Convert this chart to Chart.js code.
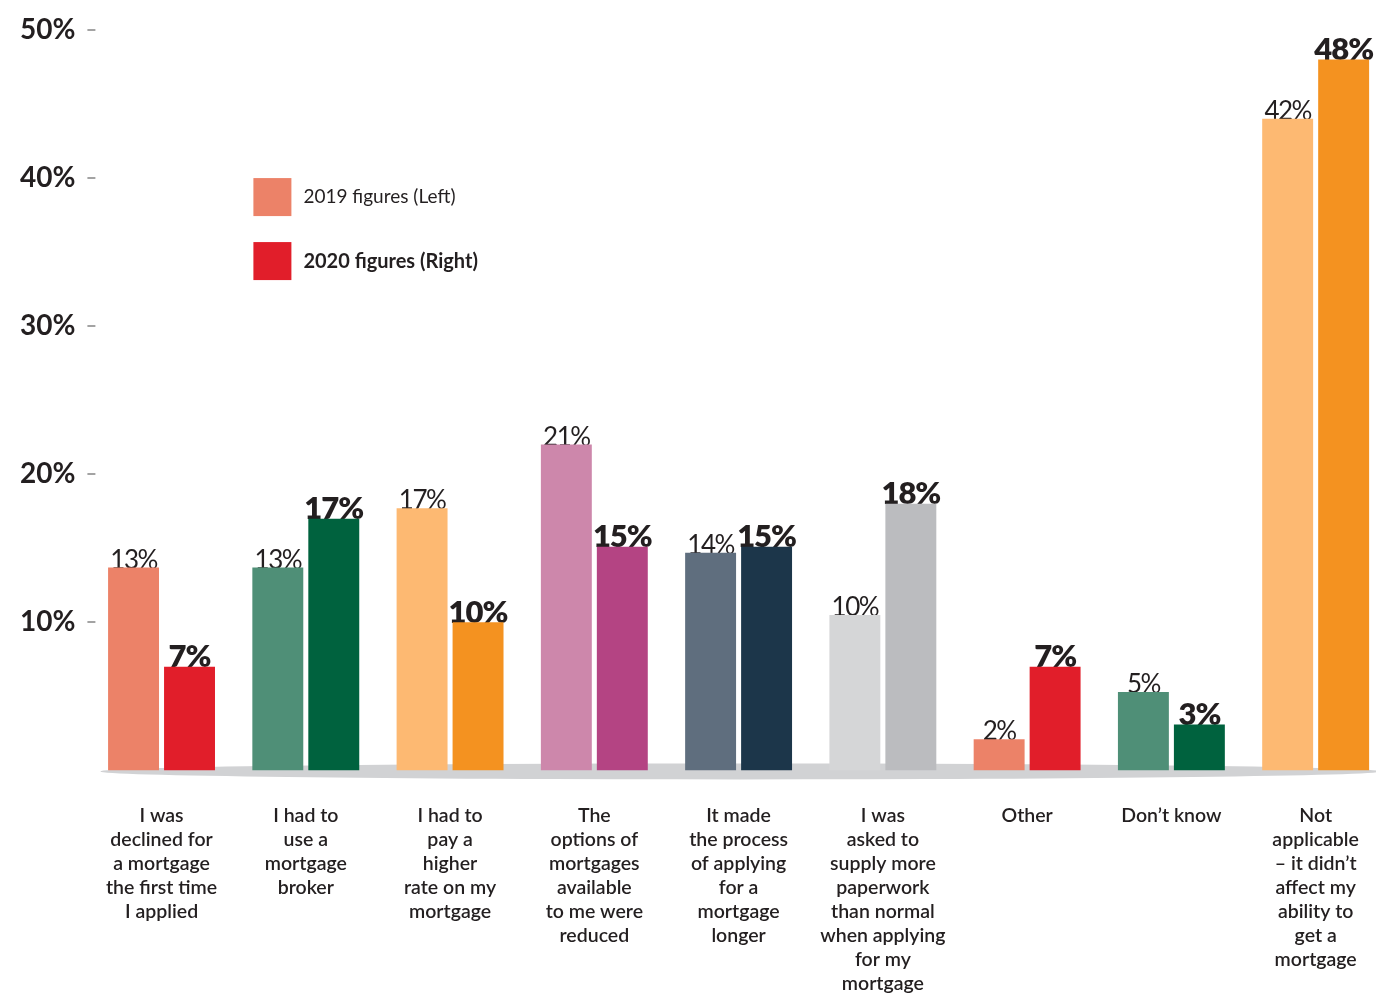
<!DOCTYPE html>
<html>
<head>
<meta charset="utf-8">
<script src="https://cdn.jsdelivr.net/npm/chart.js@4.4.1/dist/chart.umd.min.js"></script>
<style>
  html, body { margin: 0; padding: 0; background: #ffffff; overflow: hidden; }
  #wrap { position: relative; width: 1392px; height: 994px; }
</style>
</head>
<body>
<div id="wrap"><canvas id="c"></canvas></div>
<script>
// ---- data ----
const categories = [
  ['I was', 'declined for', 'a mortgage', 'the first time', 'I applied'],
  ['I had to', 'use a', 'mortgage', 'broker'],
  ['I had to', 'pay a', 'higher', 'rate on my', 'mortgage'],
  ['The', 'options of', 'mortgages', 'available', 'to me were', 'reduced'],
  ['It made', 'the process', 'of applying', 'for a', 'mortgage', 'longer'],
  ['I was', 'asked to', 'supply more', 'paperwork', 'than normal', 'when applying', 'for my', 'mortgage'],
  ['Other'],
  ['Don\u2019t know'],
  ['Not', 'applicable', '\u2013 it didn\u2019t', 'affect my', 'ability to', 'get a', 'mortgage']
];
// bar heights as drawn in the picture
const values2019 = [13.7, 13.7, 17.7, 22.0, 14.7, 10.5, 2.1, 5.3, 44.0];
const values2020 = [7, 17, 10, 15.1, 15.1, 18, 7, 3.1, 48];
// printed value labels
const labels2019 = ['13%', '13%', '17%', '21%', '14%', '10%', '2%', '5%', '42%'];
const labels2020 = ['7%', '17%', '10%', '15%', '15%', '18%', '7%', '3%', '48%'];
const yTicks = [10, 20, 30, 40, 50];
const yTickLabels = ['10%', '20%', '30%', '40%', '50%'];
const seriesNames = ['2019 figures (Left)', '2020 figures (Right)'];

const colors2019 = ['#EC8268', '#4F8F77', '#FDB972', '#CD87AB', '#5F6E7E', '#D5D6D7', '#EC8268', '#4F8F77', '#FDB972'];
const colors2020 = ['#E11E2A', '#00623E', '#F49220', '#B44483', '#1C364A', '#BBBCBF', '#E11E2A', '#00623E', '#F49220'];

const FONT = 'Lato, "Open Sans", "DejaVu Sans", sans-serif';

// ---- plugins ----
const decorPlugin = {
  id: 'decor',
  beforeDatasetsDraw(chart) {
    const ctx = chart.ctx;
    const ca = chart.chartArea;
    const y0 = chart.scales.y.getPixelForValue(0);
    // ground shadow
    const lx = ca.left + 11, rx = ca.right - 8;
    ctx.save();
    ctx.fillStyle = '#D1D2D4';
    ctx.beginPath();
    ctx.ellipse((lx + rx) / 2, y0 + 1, (rx - lx) / 2, 8, 0, 0, Math.PI * 2);
    ctx.fill();
    ctx.restore();

    // value labels (drawn beneath bars, bars overlap their bottoms slightly)
    ctx.save();
    ctx.textAlign = 'center';
    ctx.textBaseline = 'alphabetic';
    ctx.fillStyle = '#231F20';
    const m0 = chart.getDatasetMeta(0), m1 = chart.getDatasetMeta(1);
    ctx.font = '400 26px ' + FONT;
    try { ctx.letterSpacing = '-1.5px'; } catch (e) {}
    m0.data.forEach((bar, i) => {
      ctx.fillText(labels2019[i], bar.x, bar.y + 1);
    });
    ctx.font = '800 31px ' + FONT;
    try { ctx.letterSpacing = '-1px'; } catch (e) {}
    m1.data.forEach((bar, i) => {
      ctx.fillText(labels2020[i], bar.x, bar.y + 0.5);
    });
    ctx.restore();
  },
  afterDraw(chart) {
    const ctx = chart.ctx;
    const ca = chart.chartArea;
    const ys = chart.scales.y;
    // y tick dashes
    ctx.save();
    ctx.strokeStyle = '#A3A3A3';
    ctx.lineWidth = 2;
    yTicks.forEach(v => {
      const y = Math.round(ys.getPixelForValue(v));
      ctx.beginPath();
      ctx.moveTo(ca.left - 2, y);
      ctx.lineTo(ca.left + 6, y);
      ctx.stroke();
    });
    ctx.restore();

    // legend
    ctx.save();
    const lx = ca.left + 164;
    const items = [
      { text: seriesNames[0], color: colors2019[0], font: '400 19px ', y: ys.getPixelForValue(40) },
      { text: seriesNames[1], color: colors2020[0], font: '700 20px ', y: ys.getPixelForValue(40) + 64 }
    ];
    items.forEach(it => {
      ctx.fillStyle = it.color;
      ctx.fillRect(lx, it.y, 38, 38);
      ctx.fillStyle = '#231F20';
      ctx.font = it.font + FONT;
      ctx.textAlign = 'left';
      ctx.textBaseline = 'middle';
      ctx.fillText(it.text, lx + 50, it.y + 19);
    });
    ctx.restore();
  }
};

new Chart(document.getElementById('c'), {
  type: 'bar',
  data: {
    labels: categories,
    datasets: [
      { label: seriesNames[0], data: values2019, backgroundColor: colors2019, borderWidth: 0,
        categoryPercentage: 0.776, barPercentage: 0.91 },
      { label: seriesNames[1], data: values2020, backgroundColor: colors2020, borderWidth: 0,
        categoryPercentage: 0.776, barPercentage: 0.91 }
    ]
  },
  options: {
    responsive: true,
    maintainAspectRatio: false,
    animation: false,
    events: [],
    layout: { padding: { left: 20, right: 0.8, top: 30, bottom: 0 } },
    plugins: {
      legend: { display: false },
      tooltip: { enabled: false }
    },
    scales: {
      x: {
        grid: { display: false, drawTicks: false },
        border: { display: false },
        ticks: {
          padding: 33,
          autoSkip: false,
          maxRotation: 0,
          color: '#231F20',
          font: { family: FONT, size: 19.5, weight: '600', lineHeight: 24 / 19.5 }
        },
        afterFit(scale) { scale.height = 223.6; }
      },
      y: {
        min: 0,
        max: 50,
        grid: { display: false, drawTicks: false },
        border: { display: false },
        afterBuildTicks(scale) { scale.ticks = yTicks.map(v => ({ value: v })); },
        ticks: {
          crossAlign: 'far',
          padding: 0,
          color: '#231F20',
          font: { family: FONT, size: 28, weight: '700' },
          callback: (v) => yTickLabels[yTicks.indexOf(v)]
        },
        afterFit(scale) { scale.width = 69.4; }
      }
    }
  },
  plugins: [decorPlugin]
});
</script>
</body>
</html>
